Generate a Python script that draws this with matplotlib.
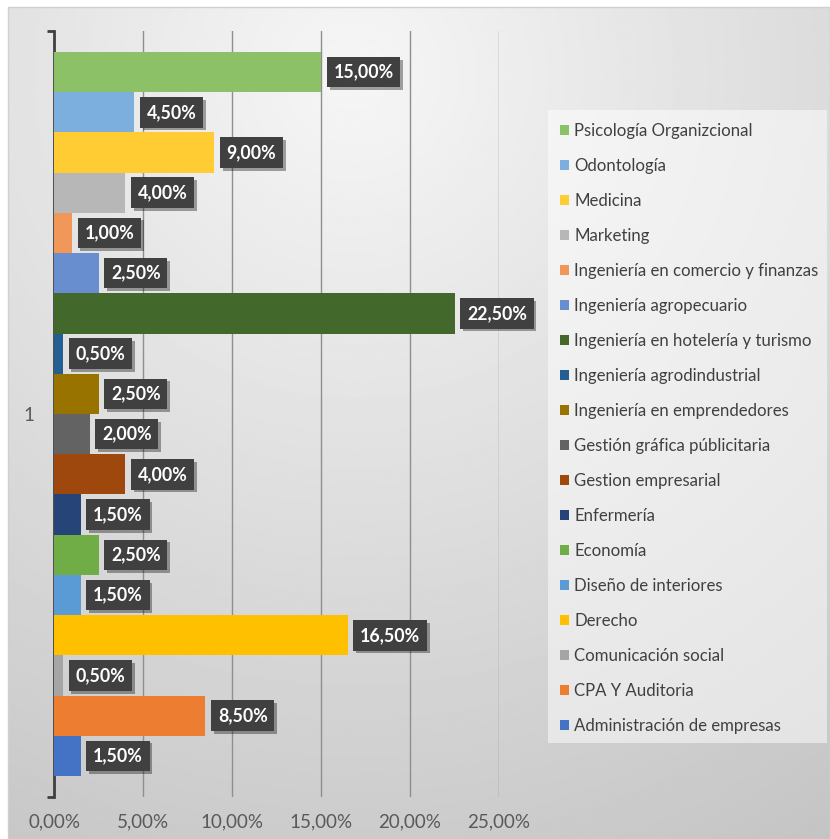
import numpy as np
import matplotlib.pyplot as plt
from matplotlib import patheffects
from matplotlib.patches import Rectangle

# carreras, de arriba hacia abajo
carreras = ['Psicología Organizcional', 'Odontología', 'Medicina', 'Marketing',
            'Ingeniería en comercio y finanzas', 'Ingeniería agropecuario',
            'Ingeniería en hotelería y turismo', 'Ingeniería agrodindustrial',
            'Ingeniería en emprendedores', 'Gestión gráfica públicitaria',
            'Gestion empresarial', 'Enfermería', 'Economía', 'Diseño de interiores',
            'Derecho', 'Comunicación social', 'CPA Y Auditoria',
            'Administración de empresas']
porcentajes = [15.0, 4.5, 9.0, 4.0, 1.0, 2.5, 22.5, 0.5, 2.5, 2.0,
               4.0, 1.5, 2.5, 1.5, 16.5, 0.5, 8.5, 1.5]
colores = ['#8CC168', '#7CAFDD', '#FFCD33', '#B7B7B7', '#F1975A', '#698ED0',
           '#43682B', '#255E91', '#997300', '#636363', '#9E480E', '#264478',
           '#70AD47', '#5B9BD5', '#FFC000', '#A5A5A5', '#ED7D31', '#4472C4']
categoria = '1'
ticks_x = [0, 5, 10, 15, 20, 25]


def pct(v):
    return f'{v:.2f}%'.replace('.', ',')


W, H = 830, 839
fig = plt.figure(figsize=(W / 100, H / 100), dpi=100)
fig.patch.set_facecolor('white')

# fondo con degradado radial
bg = fig.add_axes([8 / W, 0, 1 - 8 / W, 1 - 7 / H], zorder=-10)
yy, xx = np.mgrid[0:1:400j, 0:1:400j]
r = np.hypot(xx - 0.42, yy - 0.08)
shade = np.clip(246 - 46 * r, 195, 246) / 255
bg.imshow(shade, cmap='gray', vmin=0, vmax=1, extent=(0, 1, 0, 1),
          aspect='auto', interpolation='bilinear')
bg.set_axis_off()
fig.patches.append(Rectangle((8 / W, 0), 1 - 8 / W, 1 - 7 / H, transform=fig.transFigure,
                             fill=False, edgecolor='#d0d0d0', lw=1, zorder=-5))

ax = fig.add_axes([54 / W, 1 - 797 / H, 445 / W, 766 / H])
ax.patch.set_alpha(0)

pos = np.arange(len(carreras))[::-1]
bars = ax.barh(pos, porcentajes, height=1.0, color=colores, zorder=3)

ax.set_xlim(0, 25)
ax.set_ylim(-1.02, 18.02)
ax.set_xticks(ticks_x)
ax.set_xticklabels([pct(t) for t in ticks_x], fontfamily='Lato', fontsize=13.5,
                   color='#595959')
ax.tick_params(axis='x', length=0, pad=12)
ax.grid(axis='x', color='#8f8f8f', lw=1, zorder=0)

ax.set_yticks([-1.02, 18.02], ['', ''])
ax.tick_params(axis='y', which='major', direction='out', length=5, width=2, color='#404040')
ax.set_yticks([8.5], [categoria], minor=True)
ax.tick_params(axis='y', which='minor', length=0, pad=14, labelsize=13.5, labelcolor='#595959')
for lbl in ax.get_yticklabels(minor=True):
    lbl.set_fontfamily('Lato')

for s in ['top', 'right', 'bottom']:
    ax.spines[s].set_visible(False)
ax.spines['left'].set_color('#404040')
ax.spines['left'].set_linewidth(2)

# etiquetas de datos
for p, v in zip(pos, porcentajes):
    t = ax.annotate(pct(v), (v, p), xytext=(12.5, 0), textcoords='offset pixels',
                    ha='left', va='center', fontfamily='Lato', fontweight='bold',
                    fontsize=12.8, color='white', zorder=5,
                    bbox=dict(boxstyle='square,pad=0.38', fc='#404040', ec='none'))
    t.get_bbox_patch().set_path_effects([
        patheffects.withSimplePatchShadow(offset=(2, -2), shadow_rgbFace='k', alpha=0.35)])

# leyenda
fig.patches.append(Rectangle((548 / W, 1 - 743 / H), 279 / W, 633 / H,
                             transform=fig.transFigure, fc='white', alpha=0.5,
                             ec='none', zorder=1))
leg = fig.legend(bars.patches, carreras, loc='upper left',
                 bbox_to_anchor=(560 / W, 1 - 123 / H), frameon=False,
                 prop={'family': 'Lato', 'size': 12.1}, labelcolor='#404040',
                 handlelength=0.55, handleheight=0.55, handletextpad=0.3,
                 labelspacing=1.13, borderpad=0, borderaxespad=0)

fig.savefig('out.png', dpi=100)
